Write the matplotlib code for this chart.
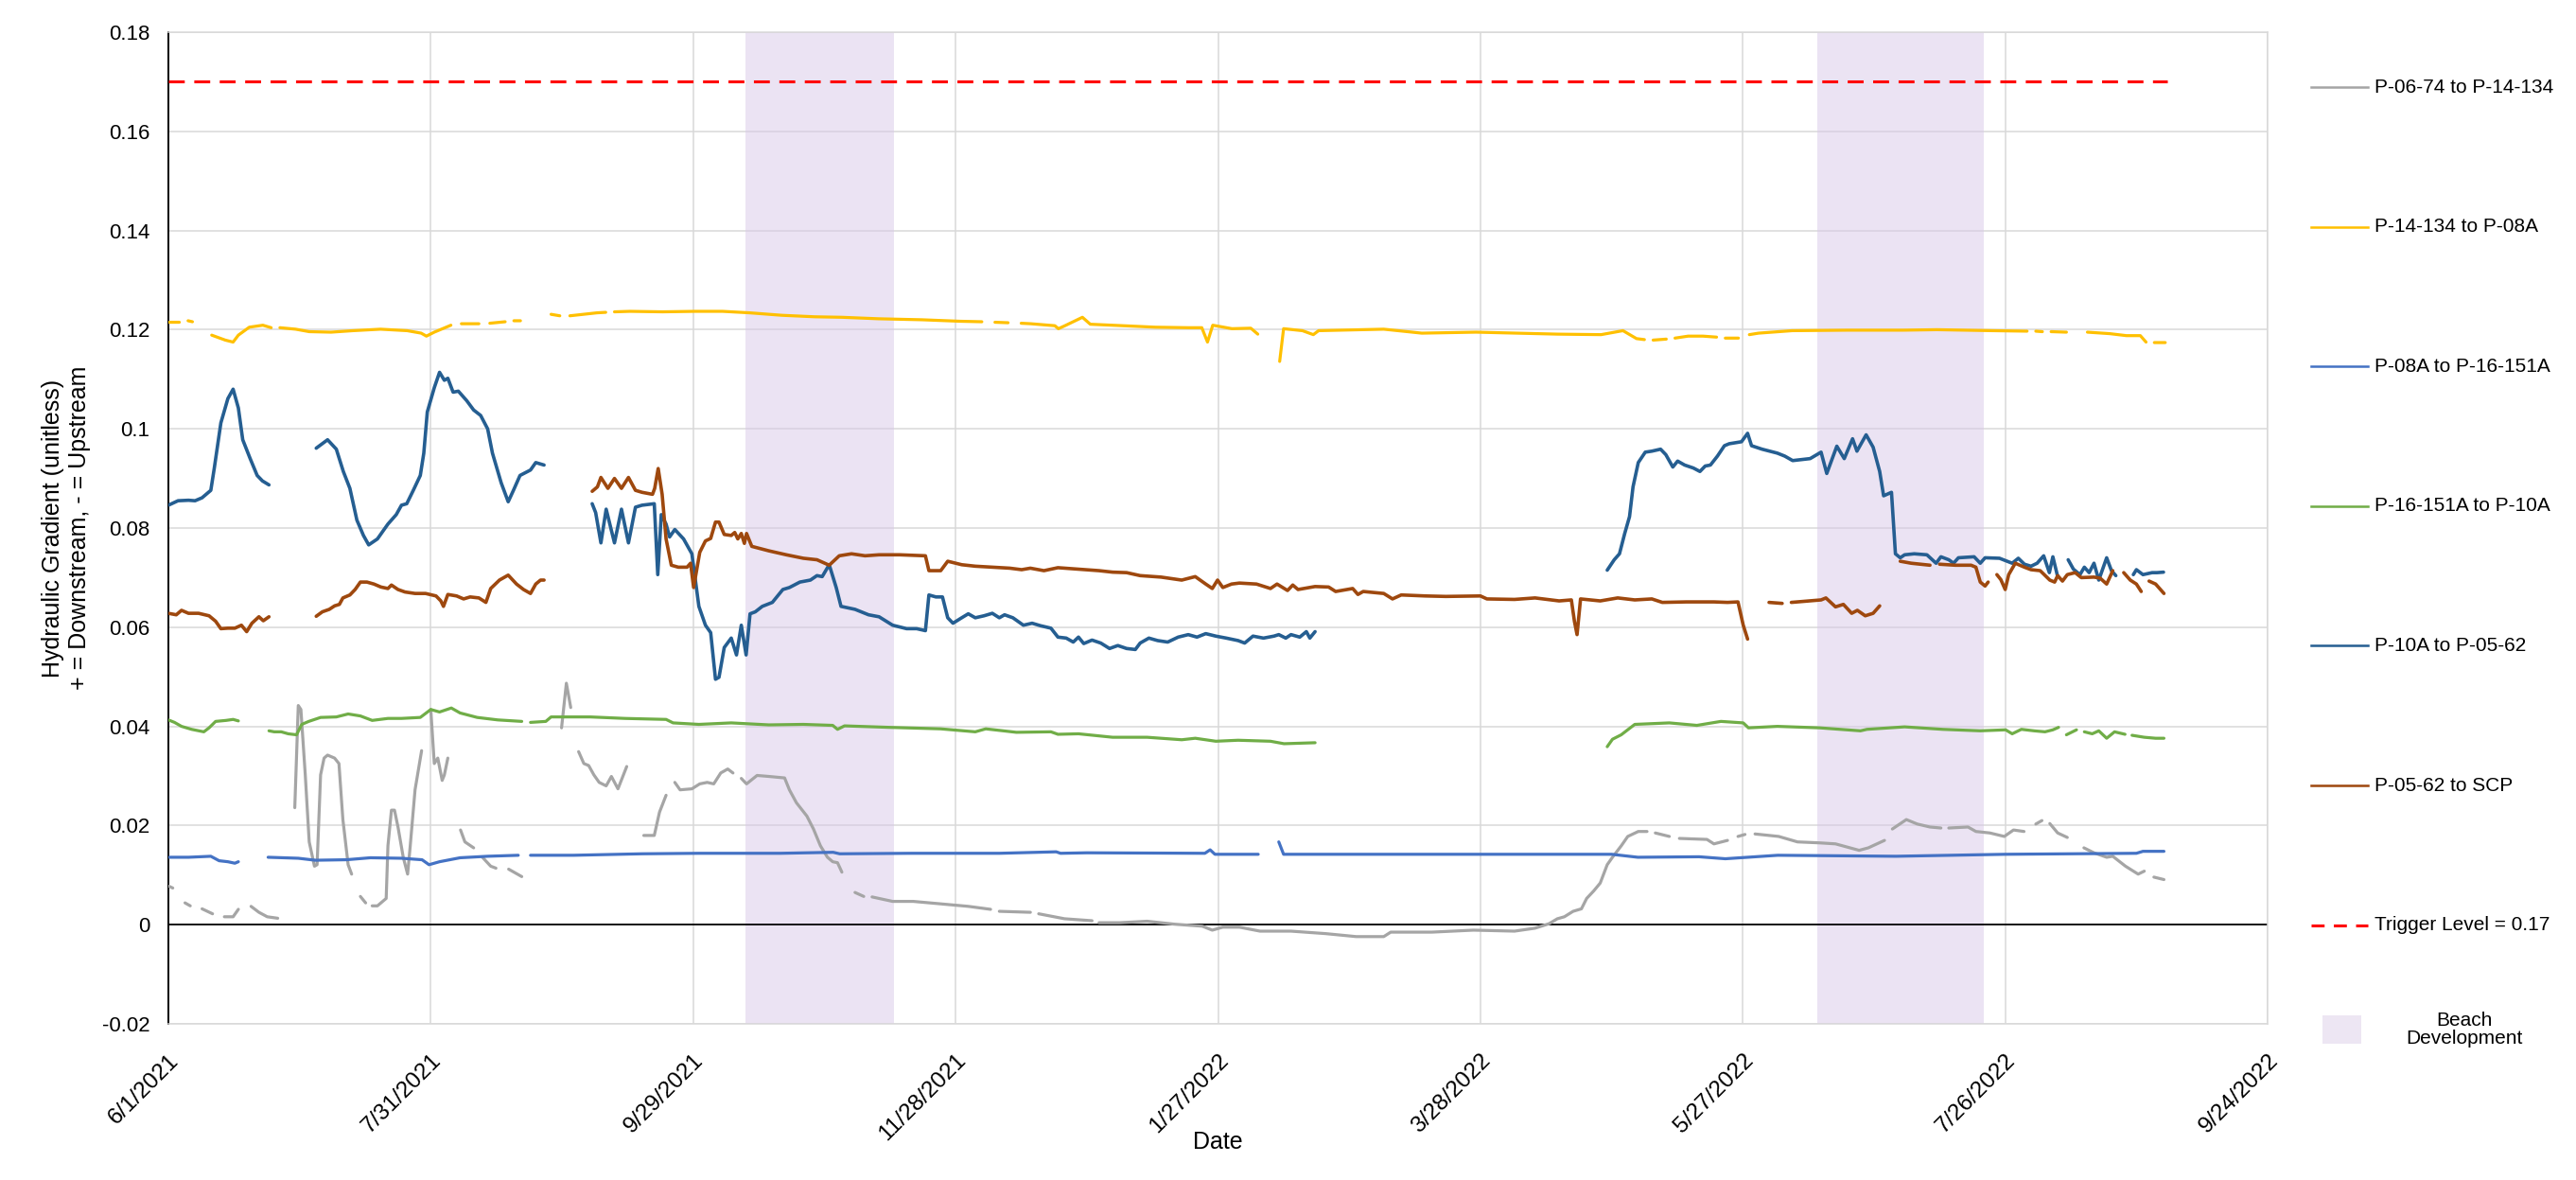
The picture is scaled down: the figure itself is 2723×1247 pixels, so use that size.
import numpy as np
import pandas as pd
import matplotlib
matplotlib.use("Agg")
import matplotlib.pyplot as plt
from matplotlib.lines import Line2D
from matplotlib.patches import Rectangle

plt.rcParams['font.family'] = ['Liberation Sans', 'DejaVu Sans']

START = pd.Timestamp('2021-06-01')
N = None  # gap in the record

# ---- data: day offset from 6/1/2021 and gradient value ----
p0674_days = [0, 1.0, 2.4, 3.8, 5.0, 6.3, 7.7, 10.1, 11.4, 12.8, 14.8, 16.0, 17.4, 18.9, 20.7, 22.6, 25.0, 27,
              28.9, 29.7, 30.3, 31.3, 32.2, 33.4, 34.0, 34.8, 35.6, 36.4, 38.0, 39.0, 39.9, 41.1, 41.9, 42.9,
              43.9, 45.1, 45.8, 46.6, 47.8, 49.8, 50.2, 51.0, 51.7, 52.5, 53.7, 54.7, 55.3, 56.4, 57.9, 59,
              60.0, 60.8, 61.6, 62.6, 63.1, 63.9, 65.3,
              66.8, 67.8, 69.8, 70.8, 71.8, 73.7, 74.9, 76.3, 77.8, 80.8, 85,
              89.9, 91.0, 92.0, 92.9,
              93.8, 95.0, 96.1, 97.3, 98.5, 100.1, 101.3, 102.8, 104.8, 106.5,
              108.7, 111.1, 112.3, 113.8, 114.8,
              115.8, 117.0, 119.7, 121.5, 123.2, 124.7, 126.3, 127.9, 129.1, 130.1,
              131.0, 132.2, 134.6, 137.3, 140.9, 142.0, 143.6, 146.0, 147.5, 149.1, 150.7, 151.9, 153.0, 154.0, 155.5,
              157.0, 159.0, 160.0, 160.9, 165.6, 170.3, 176.6, 182.9, 188.0, 189.0, 190.0, 197.1, 198.0,
              199.0, 204.9, 211.2, 212.0, 212.8, 217.5, 223.8, 230.1, 236.4, 238.7, 241.1, 244.9, 249.6, 256.7,
              264.6, 271.6, 277.9, 279.5, 288.9, 298.4, 307.8, 312.5, 315.7, 317.6, 319.2, 321.2, 323.1, 324.3,
              325.9, 327.4, 329.0, 330.2, 332.2, 333.7, 336.1, 338.1, 339.0,
              340.0, 343.2, 344.3, 345.5, 351.8, 353.4, 356.5, 357.7, 358.9, 360.5, 361.6, 362.8, 368.2, 372.5,
              377.6, 381.2, 383.3, 386.6, 388.7, 392.4, 393.3,
              394.2, 397.4, 399.9, 402.8, 405.3, 406.2, 407.1, 411.5, 413.3, 416.5, 419.8, 421.9, 424.3, 425.6,
              427.0, 428.4, 429.3, 430.2, 432.0, 434.2, 436, 438.0, 440.3, 443.2, 444.6, 447.5, 450.4, 451.8,
              452.9, 454.0, 456.3]
p0674_vals = [0.0078, 0.0074, N, 0.0044, 0.0038, N, 0.0032, 0.0022, N, 0.0016, 0.0016, 0.0031, N, 0.0037,
              0.0025, 0.0016, 0.0013, N,
              0.0236, 0.0442, 0.0434, 0.0302, 0.0167, 0.0118, 0.0121, 0.0302, 0.0336, 0.0342, 0.0336, 0.0325,
              0.0212, 0.0121, 0.0102, N,
              0.0057, 0.0044, N, 0.0038, 0.0038, 0.0053, 0.0159, 0.0231, 0.0231, 0.0197, 0.0136, 0.0102, 0.0159,
              0.0272, 0.0351, N,
              0.0434, 0.0325, 0.0336, 0.0291, 0.0302, 0.0336, N,
              0.0191, 0.0167, 0.0155, N, 0.0136, 0.0118, 0.0114, N, 0.0112, 0.0097, N,
              0.0397, 0.0487, 0.0438, N,
              0.0349, 0.0325, 0.0321, 0.0302, 0.0287, 0.0280, 0.0299, 0.0274, 0.0319, N,
              0.0180, 0.0180, 0.0227, 0.0261, N,
              0.0287, 0.0272, 0.0274, 0.0284, 0.0287, 0.0284, 0.0306, 0.0314, 0.0306, N,
              0.0295, 0.0284, 0.0301, 0.0299, 0.0296, 0.0272, 0.0246, 0.0219, 0.0193, 0.0159, 0.0136, 0.0127,
              0.0125, 0.0106, N,
              0.0065, 0.0057, N, 0.0056, 0.0047, 0.0047, 0.0042, 0.0037, 0.0031, N, 0.0027, 0.0025, N,
              0.0022, 0.0012, 0.0008, N, 0.0004, 0.0004, 0.0007, 0.0001, -0.0003, -0.0011, -0.0005, -0.0005,
              -0.0013, -0.0013,
              -0.0018, -0.0024, -0.0024, -0.0015, -0.0015, -0.0011, -0.0013, -0.0007, 0.0002, 0.0012, 0.0016,
              0.0027, 0.0032, 0.0053,
              0.0068, 0.0084, 0.0121, 0.0136, 0.0159, 0.0178, 0.0188, 0.0188, N,
              0.0185, 0.0178, N, 0.0174, 0.0172, 0.0163, 0.0170, N, 0.0178, 0.0182, N, 0.0183, 0.0178, 0.0167,
              0.0165, 0.0163, 0.0158, 0.0150, 0.0155, 0.0170, N,
              0.0193, 0.0212, 0.0203, 0.0197, 0.0195, N, 0.0195, 0.0197, 0.0188, 0.0185, 0.0178, 0.0191, 0.0188, N,
              0.0203, 0.0210, N, 0.0204, 0.0185, 0.0176, N, 0.0155, 0.0145, 0.0136, 0.0138, 0.0118, 0.0102, 0.0108,
              N, 0.0096, 0.0091]

p14_days = [0, 2.5, 3.5, 4.5, 5.5, 7, 9.9, 13, 14.8, 16, 18.5, 21.6, 23.5, 24.5, 25.5, 29.1, 32.2, 37.2, 42.2,
            48.5, 54.6, 57.8, 59, 60.8, 64.6, 66, 67, 71, 72.5, 73.5, 77, 78, 79, 80.5, 84,
            87.5, 89.5, 90.5, 91.8, 98, 100, 101, 102, 105.5, 113, 120.4, 126.7, 132.9, 140.3, 147.8, 154, 162.4,
            172.3, 181, 186, 187.5, 189, 192, 193.5, 195, 197.2, 202.7, 203.5, 205, 209, 210.8, 218.3, 225.7,
            233.2, 236.3, 237.6, 238.8, 243.2, 247.5, 249.1, 251.5,
            254.1, 255, 259.3, 261.8, 263, 277.9, 286.6, 299, 317.7, 327.6, 332.6, 335.7, 337.5, 338.5, 339.5,
            342.5, 343.5, 344.5, 347.5, 350.9, 354, 355, 356, 359, 360.5, 361.5, 363.6, 371.3, 384, 396.7, 404.4,
            417.1, 425, 426, 427, 428.5, 429.5, 430.5, 434, 436, 438.8, 443.9, 447.7, 450.9, 452.2, 453.2,
            454.1, 456.6]
p14_vals = [0.1215, 0.1215, N, 0.1218, 0.1216, N, 0.1189, 0.1179, 0.1175, 0.1189, 0.1205, 0.1209, 0.1204, N,
            0.1204, 0.1201, 0.1196, 0.1195, 0.1198, 0.1201, 0.1198, 0.1193, 0.1187, 0.1195, 0.1209, N, 0.1212,
            0.1212, N, 0.1213, 0.1216, N, 0.1218, 0.1218, N,
            0.1231, 0.1228, N, 0.1228, 0.1234, 0.1235, N, 0.1236, 0.1237, 0.1236, 0.1237, 0.1237, 0.1234, 0.1229,
            0.1226, 0.1225, 0.1222, 0.1220, 0.1217, 0.1216, N, 0.1215, 0.1214, N, 0.1213, 0.1212, 0.1208, 0.1202,
            0.1208, 0.1225, 0.1211, 0.1208, 0.1205, 0.1204, 0.1204, 0.1175, 0.1209, 0.1202, 0.1203, 0.1191, N,
            0.1136, 0.1202, 0.1198, 0.1190, 0.1198, 0.1201, 0.1193, 0.1195, 0.1191, 0.1190, 0.1198, 0.1182, 0.1180,
            N, 0.1179, 0.1181, N, 0.1183, 0.1187, 0.1187, 0.1185, N, 0.1183, 0.1183, N, 0.1190, 0.1193, 0.1198,
            0.1199, 0.1199, 0.1200, 0.1198, 0.1197, N, 0.1197, 0.1196, N, 0.1196, 0.1195, N, 0.1195, 0.1192,
            0.1188, 0.1188, 0.1175, N, 0.1174, 0.1174]

p08a_days = [0, 4.6, 9.7, 11.6, 13.6, 15.2, 16.0, 19.5,
             22.8, 29.7, 33.6, 40.7, 46.2, 53.3, 58.0, 59.6, 62.0, 66.7, 73.0, 80.0, 81.5,
             82.8, 92.6, 108.3, 121.3, 140, 152, 153.5, 170, 190, 203, 204, 210, 237, 238.2, 239.3, 249.2, 251.5,
             253.9, 255.0, 280, 300, 330, 336, 350, 356, 368, 395, 420, 450, 451.5, 456.3]
p08a_vals = [0.0136, 0.0136, 0.0138, 0.0129, 0.0127, 0.0124, 0.0127, N,
             0.0136, 0.0134, 0.0130, 0.0131, 0.0135, 0.0134, 0.0131, 0.0121, 0.0127, 0.0135, 0.0138, 0.0140, N,
             0.0140, 0.0140, 0.0143, 0.0144, 0.0144, 0.0146, 0.0143, 0.0144, 0.0144, 0.0147, 0.0144, 0.0145,
             0.0144, 0.0151, 0.0142, 0.0142, N,
             0.0167, 0.0142, 0.0142, 0.0142, 0.0142, 0.0136, 0.0137, 0.0133, 0.0140, 0.0138, 0.0142, 0.0144,
             0.0148, 0.0148]

p16_days = [0, 1.4, 3.0, 5.3, 8.1, 9.3, 10.8, 13.2, 14.8, 16.0, 19.5,
            23.0, 24.2, 25.8, 27.4, 29.3, 30.5, 32.1, 34.8, 38.4, 41.1, 43.9, 46.6, 50.2, 53.3, 57.6, 60.0,
            62.0, 64.7, 66.7, 70.6, 75.3, 80.8, 81.8,
            82.8, 86.3, 87.5, 89.5, 96.5, 104.4, 113.8, 115.4, 121.3, 128.7, 137.3, 145.2, 151.9, 153.0, 154.6,
            164.8, 176.6, 184.5, 186.9, 193.9, 201.8, 203.4, 208.1, 215.9, 223.8, 231.7, 234.8, 239.5, 244.6,
            252.0, 255.1, 262.2, 295,
            329.0, 330.2, 332.2, 335.3, 343.2, 349.5, 355.0, 360.1, 361.3, 367.9, 377.6, 386.9, 388.4, 397.0,
            405.7, 414.3, 420.1, 421.6, 423.7, 426.6, 429.1, 430.9, 432.2, 433.1, 434.0, 436.3, 437.2, 438.1,
            439.9, 441.4, 443.2, 445.0, 447.4, 448.2, 449.0, 451.8, 454.4, 456.3]
p16_vals = [0.0413, 0.0408, 0.0400, 0.0394, 0.0389, 0.0397, 0.0410, 0.0412, 0.0414, 0.0411, N,
            0.0391, 0.0389, 0.0389, 0.0385, 0.0383, 0.0404, 0.0410, 0.0418, 0.0419, 0.0425, 0.0421, 0.0412,
            0.0416, 0.0416, 0.0418, 0.0434, 0.0429, 0.0437, 0.0427, 0.0418, 0.0413, 0.0410, N,
            0.0408, 0.0410, 0.0419, 0.0419, 0.0419, 0.0416, 0.0414, 0.0407, 0.0404, 0.0407, 0.0403, 0.0404,
            0.0402, 0.0394, 0.0401, 0.0398, 0.0395, 0.0389, 0.0395, 0.0388, 0.0389, 0.0384, 0.0385, 0.0378,
            0.0378, 0.0373, 0.0376, 0.0370, 0.0372, 0.0370, 0.0365, 0.0367, N,
            0.0359, 0.0374, 0.0383, 0.0404, 0.0407, 0.0402, 0.0410, 0.0407, 0.0397, 0.0400, 0.0397, 0.0391,
            0.0394, 0.0399, 0.0394, 0.0391, 0.0393, 0.0385, 0.0394, 0.0391, 0.0389, 0.0393, 0.0398, N, 0.0383,
            0.0393, N, 0.0389, 0.0385, 0.0391, 0.0376, 0.0389, 0.0384, N, 0.0382, 0.0378, 0.0376, 0.0376]

p10a_days = [0, 2.2, 4.6, 6.1, 7.7, 9.7, 10.5, 12.0, 13.6, 14.8, 16.0, 17.0, 18.7, 20.3, 21.5, 23.0, 28,
             33.8, 36.4, 38.4, 40.0, 41.5, 43.1, 44.6, 45.8, 47.8, 50.2, 52.1, 53.3, 54.5, 56.0, 57.6, 58.4, 59.2,
             60.8, 62.0, 63.1, 63.9, 65.1, 66.3, 68.2, 69.8, 71.4, 73.0, 74.1, 76.1, 77.7, 78.9, 80.4, 82.8, 84.0,
             85.9, 91,
             96.9, 97.7, 98.9, 100.1, 102.0, 103.6, 105.2, 106.8, 108.3, 111.1, 111.9, 112.7, 113.8, 114.6, 115.8,
             117.8, 119.7, 121.3, 122.8, 124.0, 125.1, 125.9, 127.1, 128.7, 129.9, 131.0, 132.1, 133.0, 134.2,
             135.8, 138.1, 140.5, 142.0, 144.4, 146.8, 148.3, 149.5, 151.1, 152.7, 153.8, 157.0, 160.1, 162.5,
             165.6, 168.8, 171.1, 173.1, 173.9, 175.5, 177.0, 178.2, 179.4, 181.4, 182.9, 184.5, 186.5, 188.4,
             190.0, 191.2, 193.1, 195.5, 197.5, 199.4, 201.8, 203.4, 205.3, 206.9, 208.1, 209.3, 211.2, 213.2,
             215.2, 217.1, 219.1, 221.1, 222.2, 224.2, 226.2, 228.5, 230.9, 233.2, 235.2, 237.2, 239.5, 241.9,
             244.6, 246.1, 248.0, 250.4, 252.8, 253.9, 255.5, 256.7, 258.7, 260.2, 261.0, 262.2, 295,
             329.0, 330.6, 331.8, 333.0, 334.1, 334.9, 336.1, 337.7, 339.2, 341.2, 342.4, 344.0, 345.1, 346.7,
             348.7, 350.2, 351.4, 352.6, 354.2, 355.8, 356.9, 359.7, 361.1, 362.0, 364.4, 367.9, 369.6, 371.4,
             375.4, 377.9, 379.2, 381.5, 383.2, 385.1, 386.1, 388.2, 389.8, 391.3, 392.2, 394.0, 394.9, 396.0,
             397.0, 399.2, 402.1, 404.2, 405.3, 407.1, 408.2, 409.3, 412.9, 414.3, 415.4, 418.7, 421.6, 423.0,
             424.4, 425.9, 427.3, 428.8, 430.1, 430.9, 432.0, 433.0, 434.4, 435.6, 437.1, 438.1, 439.2, 440.3,
             441.4, 443.2, 444.3, 445.3, 447, 449.3, 450.0, 451.5, 453.6, 454.7, 456.2]
p10a_vals = [0.0846, 0.0855, 0.0856, 0.0855, 0.0861, 0.0876, 0.0921, 0.1012, 0.1061, 0.1080, 0.1042, 0.0978,
             0.0940, 0.0906, 0.0895, 0.0887, N,
             0.0961, 0.0978, 0.0959, 0.0914, 0.0880, 0.0816, 0.0785, 0.0766, 0.0778, 0.0808, 0.0827, 0.0846,
             0.0849, 0.0876, 0.0906, 0.0951, 0.1034, 0.1083, 0.1114, 0.1098, 0.1102, 0.1074, 0.1076, 0.1057,
             0.1038, 0.1027, 0.1000, 0.0951, 0.0891, 0.0853, 0.0876, 0.0906, 0.0917, 0.0932, 0.0927, N,
             0.0849, 0.0831, 0.0770, 0.0838, 0.0770, 0.0838, 0.0770, 0.0842, 0.0846, 0.0849, 0.0706, 0.0827,
             0.0808, 0.0782, 0.0797, 0.0778, 0.0748, 0.0642, 0.0604, 0.0589, 0.0495, 0.0499, 0.0559, 0.0578,
             0.0544, 0.0604, 0.0544, 0.0627, 0.0631, 0.0642, 0.0650, 0.0676, 0.0680, 0.0691, 0.0695, 0.0704,
             0.0702, 0.0726, 0.0680, 0.0642, 0.0636, 0.0625, 0.0621, 0.0604, 0.0597, 0.0597, 0.0593, 0.0665,
             0.0661, 0.0661, 0.0619, 0.0608, 0.0619, 0.0627, 0.0619, 0.0623, 0.0628, 0.0619, 0.0625, 0.0619,
             0.0604, 0.0608, 0.0603, 0.0598, 0.0580, 0.0578, 0.0570, 0.0580, 0.0567, 0.0574, 0.0568, 0.0557,
             0.0563, 0.0557, 0.0555, 0.0568, 0.0578, 0.0573, 0.0570, 0.0580, 0.0585, 0.0580, 0.0587, 0.0582,
             0.0578, 0.0573, 0.0568, 0.0582, 0.0578, 0.0582, 0.0585, 0.0578, 0.0585, 0.0580, 0.0591, 0.0578,
             0.0591, N,
             0.0715, 0.0736, 0.0748, 0.0789, 0.0823, 0.0883, 0.0932, 0.0953, 0.0955, 0.0959, 0.0948, 0.0923,
             0.0935, 0.0927, 0.0921, 0.0914, 0.0925, 0.0927, 0.0945, 0.0966, 0.0970, 0.0974, 0.0991, 0.0966,
             0.0959, 0.0951, 0.0945, 0.0936, 0.0940, 0.0953, 0.0910, 0.0965, 0.0940, 0.0980, 0.0955, 0.0988,
             0.0963, 0.0914, 0.0865, 0.0872, 0.0748, 0.0740, 0.0746, 0.0748, 0.0746, 0.0729, 0.0742, 0.0736,
             0.0729, 0.0740, 0.0742, 0.0729, 0.0740, 0.0739, 0.0729, 0.0739, 0.0727, 0.0723, 0.0729, 0.0744,
             0.0710, 0.0742, 0.0702, N, 0.0736, 0.0717, 0.0706, 0.0721, 0.0710, 0.0729, 0.0695, 0.0740, 0.0714,
             0.0704, N, 0.0706, 0.0716, 0.0706, 0.0710, 0.0710, 0.0711]

p0562_days = [0, 1.8, 3.0, 4.6, 6.9, 9.3, 10.8, 12.0, 13.6, 15.2, 16.7, 17.9, 19.1, 20.7, 21.7, 23.0, 28,
              33.8, 35.2, 36.8, 38.0, 39.1, 39.9, 41.5, 42.7, 43.9, 45.4, 47.0, 48.6, 50.2, 51.0, 52.5, 54.1,
              56.4, 58.8, 61.2, 62.3, 62.9, 63.9, 65.9, 67.5, 69.0, 71.0, 72.6, 73.7, 75.7, 77.7, 79.6, 81.2,
              82.8, 84.0, 85.1, 85.9, 91,
              96.9, 98.1, 98.9, 100.5, 102.0, 103.6, 105.2, 106.8, 108.3, 110.7, 111.2, 112.0, 112.9, 113.8,
              115.0, 116.6, 118.6, 119.4, 120.1, 121.5, 122.8, 124.0, 125.1, 125.9, 127.1, 128.7, 129.5, 130.2,
              131.0, 131.7, 132.2, 133.4, 137.3, 141.3, 145.2, 148.3, 151.1, 153.4, 156.2, 159.3, 162.5, 167.2,
              173.1, 173.9, 176.6, 178.2, 181.4, 184.5, 188.4, 192.4, 195.1, 197.1, 200.2, 203.4, 208.1, 212.8,
              215.9, 219.1, 222.2, 227.0, 231.7, 234.8, 237.2, 238.7, 239.9, 241.1, 243.1, 244.9, 248.8, 252.0,
              253.5, 255.9, 257.1, 258.3, 262.2, 265.3, 266.9, 270.8, 272.0, 273.2, 277.9, 279.9, 281.9, 287.4,
              292.1, 300.0, 301.5, 307.8, 312.5, 318.0, 320.8, 321.5, 322.1, 322.9, 327.4, 331.4, 335.3, 339.2,
              341.6, 347.1, 353.4, 356.5, 358.9, 360.1, 361.1, 363.5,
              366.0, 369.0, 370, 371.1, 377.9, 379.0, 381.2, 383.0, 384.9, 386.2, 388.0, 389.8, 391.3, 393.5,
              396.0, 398.5, 402.8, 403.9, 405.0, 408.6, 412.2, 413.3, 414.3, 415.4, 416.1, 417.1, 418.1, 419.0,
              420.0, 420.8, 422.3, 424.4, 425.9, 428.0, 430.2, 431.3, 432.0, 433.1, 434.2, 436.0, 437.4, 440.3,
              441.7, 443.2, 444.6, 445.8, 447.1, 448.6, 450.0, 451.1, 452.0, 452.9, 454.4, 456.3]
p0562_vals = [0.0628, 0.0625, 0.0634, 0.0628, 0.0628, 0.0623, 0.0612, 0.0597, 0.0598, 0.0598, 0.0604, 0.0591,
              0.0608, 0.0621, 0.0613, 0.0621, N,
              0.0622, 0.0631, 0.0636, 0.0643, 0.0646, 0.0659, 0.0665, 0.0676, 0.0691, 0.0691, 0.0687, 0.0681,
              0.0678, 0.0685, 0.0676, 0.0671, 0.0668, 0.0668, 0.0663, 0.0653, 0.0642, 0.0666, 0.0663, 0.0657,
              0.0661, 0.0659, 0.0650, 0.0678, 0.0695, 0.0705, 0.0687, 0.0676, 0.0668, 0.0687, 0.0695, 0.0695, N,
              0.0874, 0.0883, 0.0902, 0.0880, 0.0900, 0.0880, 0.0902, 0.0876, 0.0872, 0.0868, 0.0880, 0.0920,
              0.0868, 0.0778, 0.0725, 0.0721, 0.0721, 0.0729, 0.0680, 0.0751, 0.0774, 0.0779, 0.0812, 0.0812,
              0.0787, 0.0785, 0.0791, 0.0778, 0.0789, 0.0769, 0.0789, 0.0763, 0.0754, 0.0746, 0.0739, 0.0736,
              0.0725, 0.0744, 0.0748, 0.0744, 0.0746, 0.0746, 0.0744, 0.0714, 0.0714, 0.0733, 0.0726, 0.0723,
              0.0721, 0.0719, 0.0716, 0.0719, 0.0714, 0.0720, 0.0717, 0.0714, 0.0711, 0.0710, 0.0704, 0.0701,
              0.0695, 0.0702, 0.0687, 0.0678, 0.0695, 0.0680, 0.0687, 0.0689, 0.0687, 0.0678, 0.0687, 0.0674,
              0.0685, 0.0676, 0.0682, 0.0681, 0.0672, 0.0678, 0.0666, 0.0672, 0.0668, 0.0657, 0.0665, 0.0663,
              0.0662, 0.0663, 0.0657, 0.0656, 0.0659, 0.0653, 0.0655, 0.0612, 0.0585, 0.0657, 0.0653, 0.0659,
              0.0655, 0.0657, 0.0650, 0.0651, 0.0651, 0.0650, 0.0651, 0.0604, 0.0576, N,
              0.0650, 0.0648, N, 0.0650, 0.0655, 0.0659, 0.0641, 0.0646, 0.0628, 0.0634, 0.0623, 0.0628, 0.0643, N,
              0.0733, 0.0729, 0.0725, N, 0.0727, 0.0725, 0.0725, 0.0721, 0.0691, 0.0683, 0.0691, N, 0.0706,
              0.0696, 0.0676, 0.0706, 0.0729, 0.0721, 0.0716, 0.0714, 0.0695, 0.0691, 0.0704, 0.0693, 0.0706,
              0.0710, 0.0700, 0.0701, 0.0699, 0.0687, 0.0714, N, 0.0710, 0.0695, 0.0687, 0.0672, N, 0.0693,
              0.0687, 0.0668]

trigger_days = [0, 457]
trigger_vals = [0.17, 0.17]

beach_periods = [('2021-10-11', '2021-11-14'), ('2022-06-13', '2022-07-21')]

series = [
    ('P-06-74 to P-14-134', p0674_days, p0674_vals, '#A5A5A5', 2.3),
    ('P-14-134 to P-08A', p14_days, p14_vals, '#FFC000', 2.3),
    ('P-08A to P-16-151A', p08a_days, p08a_vals, '#4472C4', 2.3),
    ('P-16-151A to P-10A', p16_days, p16_vals, '#70AD47', 2.3),
    ('P-10A to P-05-62', p10a_days, p10a_vals, '#255E91', 2.6),
    ('P-05-62 to SCP', p0562_days, p0562_vals, '#9E480E', 2.6),
]


def to_dates(days):
    return START + pd.to_timedelta(np.array(days, dtype=float), unit='D')


W, H = 2723, 1247
fig = plt.figure(figsize=(W / 100, H / 100), dpi=100)
ax = fig.add_axes([178 / W, 1 - 1082 / H, 2219 / W, 1048 / H])

grid_c = '#D9D9D9'
for a, b in beach_periods:
    ax.axvspan(pd.Timestamp(a), pd.Timestamp(b), color='#D9C8E8', alpha=0.5, lw=0, zorder=1)

ax.axhline(0, color='black', lw=1.3, zorder=1.5)

for label, d, v, c, lw in series:
    ax.plot(to_dates(d), np.array(v, dtype=float), color=c, lw=lw, label=label,
            solid_capstyle='round', solid_joinstyle='round', zorder=3)

ax.plot(to_dates(trigger_days), trigger_vals, color='#FF0000', lw=2.2,
        linestyle=(0, (5.5, 3.3)), zorder=3)

xticks = pd.date_range(START, periods=9, freq='60D')
ax.set_xlim(xticks[0], xticks[-1])
ax.set_xticks(xticks)
ax.set_xticklabels([f'{t.month}/{t.day}/{t.year}' for t in xticks])
yticks = np.round(np.arange(-0.02, 0.181, 0.02), 2)
ax.set_ylim(-0.02, 0.18)
ax.set_yticks(yticks)
ax.set_yticklabels([f'{t:g}' for t in yticks])

ax.grid(True, color=grid_c, lw=1.1, zorder=0)
ax.set_axisbelow(True)
for s in ['top', 'right', 'bottom']:
    ax.spines[s].set_color(grid_c)
    ax.spines[s].set_linewidth(1.1)
ax.spines['left'].set_color('black')
ax.spines['left'].set_linewidth(1.4)
ax.tick_params(axis='y', length=0, labelsize=16, pad=14)
ax.tick_params(axis='x', length=0, labelsize=17.5, pad=20)
plt.setp(ax.get_xticklabels(), rotation=45, ha='right', rotation_mode='anchor')

fig.text(1287 / W, 1 - 1207 / H, 'Date', fontsize=18, ha='center', va='center')
fig.text(70 / W, 1 - 558 / H, 'Hydraulic Gradient (unitless)\n+ = Downstream, - = Upstream',
         fontsize=18, rotation=90, ha='center', va='center', multialignment='center', linespacing=1.2)

# legend on the right
legend_rows = [(s[0], s[3], '-', 1.8) for s in series] + [('Trigger Level = 0.17', '#FF0000', '--', 2.2)]
for i, (label, c, ls, lw) in enumerate(legend_rows):
    y = 1 - (92 + i * 147.6) / H
    style = (0, (4.5, 3.2)) if ls == '--' else '-'
    fig.add_artist(Line2D([2443 / W, 2503 / W], [y, y], color=c, lw=lw, linestyle=style))
    fig.text(2510 / W, y, label, fontsize=15, ha='left', va='center')
fig.add_artist(Rectangle((2455 / W, 1 - 1103 / H), 41 / W, 30 / H, facecolor='#EDE6F3', edgecolor='none'))
fig.text(2605 / W, 1 - 1088 / H, 'Beach\nDevelopment', fontsize=15, ha='center', va='center',
         multialignment='center', linespacing=1.0)

fig.savefig('out.png', dpi=100)
